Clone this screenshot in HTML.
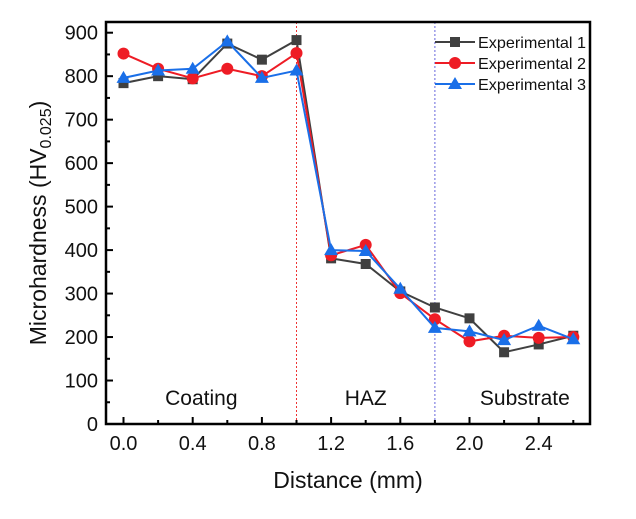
<!DOCTYPE html>
<html><head><meta charset="utf-8"><style>
body{margin:0;background:#fff}
svg text{font-family:"Liberation Sans",Arial,sans-serif;fill:#111}
</style></head><body>
<svg id="chart" width="636" height="514" viewBox="0 0 636 514" xmlns="http://www.w3.org/2000/svg"></svg>
<script>
const xVals=[0,0.2,0.4,0.6,0.8,1.0,1.2,1.4,1.6,1.8,2.0,2.2,2.4,2.6];
const exp1=[784,800,793,875,838,883,381,368,305,268,243,165,183,203];
const exp2=[852,817,795,817,800,853,388,412,301,241,190,203,198,200];
const exp3=[796,813,817,880,796,813,400,398,311,221,213,193,226,195];
const xTicks=["0.0","0.4","0.8","1.2","1.6","2.0","2.4"];
const yTicks=[0,100,200,300,400,500,600,700,800,900];
const seriesNames=["Experimental 1","Experimental 2","Experimental 3"];
const NS="http://www.w3.org/2000/svg";
const svg=document.getElementById('chart');
const L=106,R=590,T=22,B=424;
function sx(v){return 123.5+v*(538.7-123.5)/2.4;}
function sy(v){return 424-v*(424-32.7)/900;}
function mk(tag,attrs,parent){const e=document.createElementNS(NS,tag);for(const k in attrs)e.setAttribute(k,attrs[k]);(parent||svg).appendChild(e);return e;}
let e=mk('line',{x1:sx(1.0),x2:sx(1.0),y1:T,y2:B,stroke:'#e33',"stroke-width":1,"stroke-dasharray":"2,2"});


e=mk('line',{x1:sx(1.8),x2:sx(1.8),y1:T,y2:B,stroke:'#66d',"stroke-width":1,"stroke-dasharray":"2,2"});


yTicks.forEach((v,i)=>{
 const t=mk('line',{x1:L,x2:L+7,y1:sy(v),y2:sy(v),stroke:'#000',"stroke-width":2});
 
 
 if(i<yTicks.length-1){const m=mk('line',{x1:L,x2:L+4,y1:sy(v+50),y2:sy(v+50),stroke:'#000',"stroke-width":2});
 
 }
 const l=mk('text',{x:L-8,y:sy(v)+7,"text-anchor":"end","font-size":20});l.textContent=v;
 
 
});
for(let k=0;k<=13;k++){const v=k*0.2;const major=k%2==0;
 const t=mk('line',{x1:sx(v),x2:sx(v),y1:B,y2:B-(major?7:4),stroke:'#000',"stroke-width":2});
 
 }
xTicks.forEach(s=>{const l=mk('text',{x:sx(parseFloat(s)),y:450,"text-anchor":"middle","font-size":20});l.textContent=s;
 
 });
const colors=['#404040','#ee1c25','#1a6fe8'];
[exp1,exp2,exp3].forEach((ys,si)=>{
 const g=mk('g',{});
 
 
 const pts=ys.map((y,i)=>sx(xVals[i])+','+sy(y)).join(' ');
 const pl=mk('polyline',{points:pts,fill:'none',stroke:colors[si],"stroke-width":2},g);
 
 
 ys.forEach((y,i)=>{const cx=sx(xVals[i]),cy=sy(y);let m;
  if(si==0)m=mk('rect',{x:cx-5,y:cy-5,width:10,height:10,fill:colors[si]},g);
  else if(si==1)m=mk('circle',{cx:cx,cy:cy,r:6,fill:colors[si]},g);
  else m=mk('polygon',{points:`${cx},${cy-7} ${cx+7},${cy+5} ${cx-7},${cy+5}`,fill:colors[si]},g);
  
  });
});
e=mk('rect',{x:L,y:T,width:R-L,height:B-T,fill:'none',stroke:'#000',"stroke-width":2.5});


seriesNames.forEach((n,i)=>{const y=42+i*21;const cx=455;
 const g=mk('g',{});
 
 
 mk('line',{x1:435,x2:475,y1:y,y2:y,stroke:colors[i],"stroke-width":2},g);
 if(i==0)mk('rect',{x:cx-5,y:y-5,width:10,height:10,fill:colors[i]},g);
 else if(i==1)mk('circle',{cx:cx,cy:y,r:6,fill:colors[i]},g);
 else mk('polygon',{points:`${cx},${y-7} ${cx+7},${y+5} ${cx-7},${y+5}`,fill:colors[i]},g);
 const t=mk('text',{x:478,y:y+6,"font-size":16,textLength:108,lengthAdjust:"spacingAndGlyphs"},g);t.textContent=n;});
[["Coating",sx(0.45)],["HAZ",sx(1.4)],["Substrate",sx(2.32)]].forEach(([s,x])=>{
 const t=mk('text',{x:x,y:405,"text-anchor":"middle","font-size":21});t.textContent=s;
 
 });
e=mk('text',{x:(L+R)/2,y:488,"text-anchor":"middle","font-size":23});e.textContent="Distance (mm)";


e=mk('text',{x:0,y:0,transform:`translate(46,${(T+B)/2}) rotate(-90)`,"text-anchor":"middle","font-size":23});
e.innerHTML='Microhardness (HV<tspan font-size="16" dy="5">0.025</tspan><tspan dy="-5">)</tspan>';


</script>
</body></html>
